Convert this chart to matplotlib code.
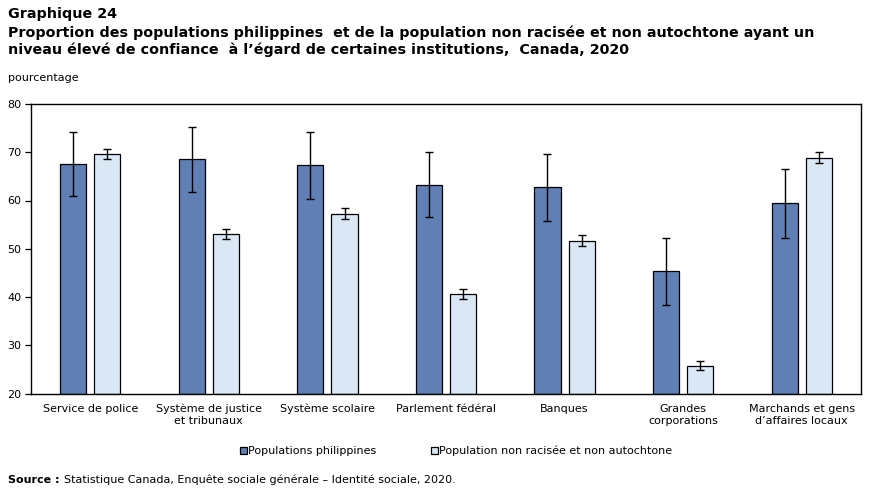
import matplotlib
matplotlib.use("Agg")
import matplotlib.pyplot as plt
import numpy as np

# data
categories = ["Service de police", "Système de justice\net tribunaux", "Système scolaire",
              "Parlement fédéral", "Banques", "Grandes\ncorporations",
              "Marchands et gens\nd\u2019affaires locaux"]
phil_values = [67.5, 68.5, 67.3, 63.3, 62.7, 45.3, 59.4]
phil_err = [6.6, 6.7, 7.0, 6.8, 6.9, 6.9, 7.2]
other_values = [69.6, 53.0, 57.3, 40.7, 51.7, 25.8, 68.9]
other_err = [1.1, 1.05, 1.15, 1.05, 1.15, 0.9, 1.05]
series_names = ["Populations philippines", "Population non racisée et non autochtone"]

dark_col = "#5f7fb5"
light_col = "#dae8f6"
fs = 8

plt.rcParams["font.family"] = "DejaVu Sans"

fig = plt.figure(figsize=(8.74, 4.92), dpi=100)
ax = fig.add_axes([31 / 874, 1 - 393.5 / 492, 830 / 874, 289.5 / 492])

x = np.arange(len(categories))
bw = 0.22
off = 0.144
err_kw = dict(ecolor="black", elinewidth=1.0, capsize=2.6, capthick=1.0)
b1 = ax.bar(x - off, np.array(phil_values) - 20, bw, bottom=20, yerr=phil_err,
            color=dark_col, edgecolor="black", linewidth=0.9, error_kw=err_kw,
            label=series_names[0])
b2 = ax.bar(x + off, np.array(other_values) - 20, bw, bottom=20, yerr=other_err,
            color=light_col, edgecolor="black", linewidth=0.9, error_kw=err_kw,
            label=series_names[1])

ax.set_xlim(-0.5, len(categories) - 0.5)
ax.set_ylim(20, 80)
ax.set_yticks(np.arange(20, 81, 10))
ax.set_xticks(x)
ax.set_xticklabels(categories, fontsize=fs, linespacing=1.25)
ax.tick_params(axis="x", length=0, pad=7.5)
ax.tick_params(axis="y", length=4, width=0.9, labelsize=fs, pad=3)
for s in ax.spines.values():
    s.set_linewidth(1.0)

fig.text(8 / 874, 1 - 7 / 492, "Graphique 24", fontsize=10.3, fontweight="bold", va="top")
fig.text(8 / 874, 1 - 25 / 492,
         "Proportion des populations philippines  et de la population non racisée et non autochtone ayant un\n"
         "niveau élevé de confiance  à l\u2019égard de certaines institutions,  Canada, 2020",
         fontsize=10.3, fontweight="bold", va="top", linespacing=1.27)
fig.text(8 / 874, 1 - 78 / 492, "pourcentage", fontsize=fs, va="center")

fig.legend(handles=[b1, b2], loc="center", bbox_to_anchor=(0.522, 1 - 451 / 492),
           ncol=2, frameon=False, fontsize=fs, handlelength=0.6, handleheight=0.6,
           handletextpad=0.15, columnspacing=4.9)

src = fig.text(8 / 874, 1 - 480 / 492, "Source :", fontsize=fs, fontweight="bold", va="center")
fig.canvas.draw()
bb = src.get_window_extent()
fig.text((bb.x1 + 4) / 874, 1 - 480 / 492,
         "Statistique Canada, Enquête sociale générale \u2013 Identité sociale, 2020.",
         fontsize=fs, va="center")

fig.savefig("out.png", dpi=100)
